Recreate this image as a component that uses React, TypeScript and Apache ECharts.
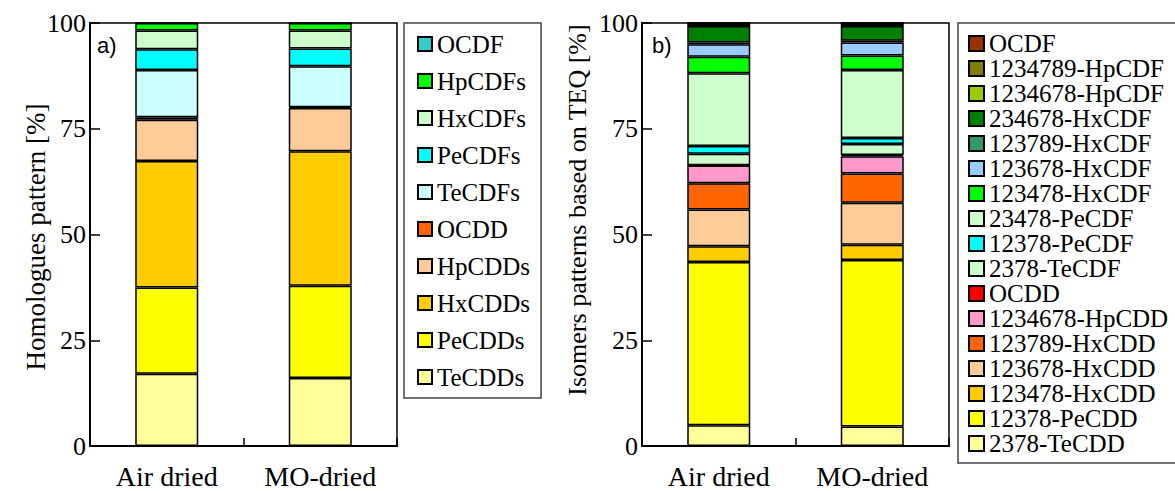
import React, { useEffect, useRef } from "react";
import * as echarts from "echarts";

const categories = ["Air dried", "MO-dried"];
const yTicks = [0, 25, 50, 75, 100];

// Chart a) homologue patterns (bottom -> top)
const homologueNames = ["TeCDDs", "PeCDDs", "HxCDDs", "HpCDDs", "OCDD", "TeCDFs", "PeCDFs", "HxCDFs", "HpCDFs", "OCDF"];
const homologueColors = ["#FFFF99", "#FFFF00", "#FFCC00", "#FFCC99", "#FF6600", "#CCFFFF", "#00FFFF", "#CCFFCC", "#00FF00", "#33CCCC"];
const homologueAir = [17.1, 20.4, 29.9, 9.7, 0.6, 11.2, 4.9, 4.4, 1.8, 0];
const homologueMO = [16.1, 21.8, 31.8, 10.2, 0.2, 9.7, 4.2, 4.2, 1.8, 0];

// Chart b) isomer patterns based on TEQ (bottom -> top)
const isomerNames = [
  "2378-TeCDD", "12378-PeCDD", "123478-HxCDD", "123678-HxCDD", "123789-HxCDD", "1234678-HpCDD", "OCDD",
  "2378-TeCDF", "12378-PeCDF", "23478-PeCDF", "123478-HxCDF", "123678-HxCDF", "123789-HxCDF", "234678-HxCDF",
  "1234678-HpCDF", "1234789-HpCDF", "OCDF",
];
const isomerColors = [
  "#FFFF99", "#FFFF00", "#FFCC00", "#FFCC99", "#FF6600", "#FF99CC", "#FF0000",
  "#CCFFCC", "#00FFFF", "#CCFFCC", "#00FF00", "#99CCFF", "#339966", "#008000",
  "#99CC00", "#808000", "#993300",
];
const isomerAir = [4.9, 38.6, 3.7, 8.7, 6.2, 4.2, 0.1, 2.7, 1.8, 17.2, 3.9, 3.0, 0.4, 3.9, 0.6, 0.05, 0.05];
const isomerMO = [4.6, 39.4, 3.6, 9.9, 6.9, 4.1, 0.3, 2.6, 1.4, 16.1, 3.4, 3.1, 0.4, 3.5, 0.6, 0.05, 0.05];

const SERIF = "'Liberation Serif', 'Times New Roman', serif";
const SANS = "'Liberation Sans', Arial, sans-serif";
const B_PREFIX = "b:";

export default function App() {
  const ref = useRef<HTMLDivElement>(null);

  useEffect(() => {
    if (!ref.current) return;
    const chart = echarts.init(ref.current, null, { renderer: "svg" });

    const makeXAxis = (gridIndex: number) => ({
      type: "category",
      gridIndex,
      data: categories,
      boundaryGap: true,
      axisLine: { show: true, lineStyle: { color: "#000", width: 2 } },
      axisTick: { show: true, inside: true, length: 8, lineStyle: { color: "#000", width: 1.5 } },
      axisLabel: { color: "#000", fontSize: 28, fontFamily: SERIF, margin: 16 },
      splitLine: { show: false },
    });
    const makeYAxis = (gridIndex: number) => ({
      type: "value",
      gridIndex,
      min: yTicks[0],
      max: yTicks[yTicks.length - 1],
      interval: 25,
      axisLine: { show: true, lineStyle: { color: "#000", width: 2 } },
      axisTick: { show: true, inside: true, length: 10, lineStyle: { color: "#000", width: 1.5 } },
      axisLabel: { color: "#000", fontSize: 26, fontFamily: SERIF, margin: 4 },
      splitLine: { show: false },
    });

    const seriesA = homologueNames.map((name, i) => ({
      type: "bar",
      name,
      xAxisIndex: 0,
      yAxisIndex: 0,
      stack: "a",
      barWidth: 63,
      data: [homologueAir[i], homologueMO[i]],
      itemStyle: { color: homologueColors[i], borderColor: "#000", borderWidth: 1.5 },
    }));
    const seriesB = isomerNames.map((name, i) => ({
      type: "bar",
      name: B_PREFIX + name,
      xAxisIndex: 1,
      yAxisIndex: 1,
      stack: "b",
      barWidth: 63,
      data: [isomerAir[i], isomerMO[i]],
      itemStyle: { color: isomerColors[i], borderColor: "#000", borderWidth: 1.5 },
    }));

    chart.setOption({
      animation: false,
      textStyle: { fontFamily: SERIF, color: "#000" },
      grid: [
        { left: 90, right: 1175 - 397, top: 23, bottom: 491 - 446, show: true, borderColor: "#000", borderWidth: 1.5, backgroundColor: "transparent" },
        { left: 642, right: 1175 - 949, top: 23, bottom: 491 - 446, show: true, borderColor: "#000", borderWidth: 1.5, backgroundColor: "transparent" },
      ],
      xAxis: [makeXAxis(0), makeXAxis(1)],
      yAxis: [makeYAxis(0), makeYAxis(1)],
      legend: [
        {
          orient: "vertical",
          left: 404,
          top: 23,
          data: [...homologueNames].reverse(),
          icon: "rect",
          itemWidth: 14,
          itemHeight: 14,
          itemGap: 11,
          padding: [8, 11, 8, 13],
          borderColor: "#444",
          borderWidth: 1.5,
          selectedMode: false,
          textStyle: { fontSize: 25, lineHeight: 26, fontFamily: SERIF, color: "#000" },
        },
        {
          orient: "vertical",
          left: 958,
          top: 23,
          data: [...isomerNames].reverse().map((n) => B_PREFIX + n),
          formatter: (n: string) => n.replace(B_PREFIX, ""),
          icon: "rect",
          itemWidth: 15,
          itemHeight: 15,
          itemGap: 0,
          padding: [8, 10, 7, 10],
          borderColor: "#444",
          borderWidth: 1.5,
          selectedMode: false,
          textStyle: { fontSize: 25, lineHeight: 25, fontFamily: SERIF, color: "#000" },
        },
      ],
      graphic: [
        {
          type: "text",
          x: 36,
          y: 237,
          rotation: Math.PI / 2,
          style: { text: "Homologues pattern [%]", font: `27px ${SERIF}`, fill: "#000", textAlign: "center", textVerticalAlign: "middle" },
        },
        {
          type: "text",
          x: 577,
          y: 210,
          rotation: Math.PI / 2,
          style: { text: "Isomers patterns based on TEQ [%]", font: `26px ${SERIF}`, fill: "#000", textAlign: "center", textVerticalAlign: "middle" },
        },
        {
          type: "text",
          x: 97,
          y: 45,
          style: { text: "a)", font: `22px ${SANS}`, fill: "#000", textAlign: "left", textVerticalAlign: "middle" },
        },
        {
          type: "text",
          x: 652,
          y: 45,
          style: { text: "b)", font: `22px ${SANS}`, fill: "#000", textAlign: "left", textVerticalAlign: "middle" },
        },
      ],
      series: [...seriesA, ...seriesB],
    });

    return () => chart.dispose();
  }, []);

  return (
    <div style={{ position: "absolute", left: 0, top: 0, width: 1175, height: 491, background: "#fff" }}>
      <div ref={ref} style={{ width: 1175, height: 491 }} />
    </div>
  );
}
